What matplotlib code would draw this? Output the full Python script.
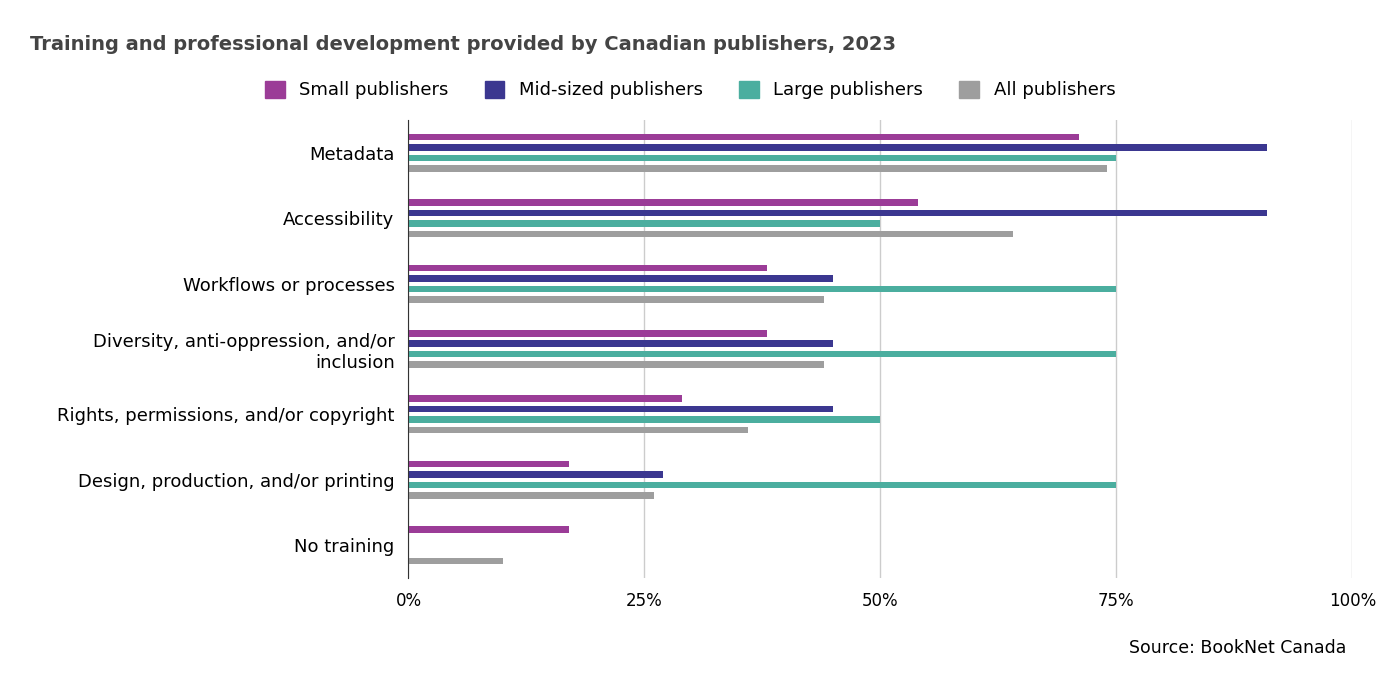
import matplotlib
matplotlib.use("Agg")
import matplotlib.pyplot as plt
import numpy as np
from matplotlib.patches import Patch

categories = ["Metadata", "Accessibility", "Workflows or processes",
              "Diversity, anti-oppression, and/or\ninclusion",
              "Rights, permissions, and/or copyright",
              "Design, production, and/or printing", "No training"]
series_names = ["Small publishers", "Mid-sized publishers", "Large publishers", "All publishers"]
small = [71, 54, 38, 38, 29, 17, 17]
mid = [91, 91, 45, 45, 45, 27, 0]
large = [75, 50, 75, 75, 50, 75, 0]
allp = [74, 64, 44, 44, 36, 26, 10]
colors = ["#9B3C97", "#3B3790", "#4BAE9F", "#9E9E9E"]
xticks = [0, 25, 50, 75, 100]
xticklabels = ["0%", "25%", "50%", "75%", "100%"]

fig = plt.figure(figsize=(13.8, 6.87), dpi=100)
ax = fig.add_axes([0.296, 0.159, 0.684, 0.666])
y = np.arange(len(categories))
offs = [-0.24, -0.08, 0.08, 0.24]
for vals, c, o in zip([small, mid, large, allp], colors, offs):
    ax.barh(y + o, vals, height=0.1, color=c)
ax.set_ylim(len(categories) - 0.5, -0.5)
ax.set_xlim(0, 100)
ax.set_yticks(y)
ax.set_yticklabels(categories, fontsize=13, ha="right")
ax.set_xticks(xticks)
ax.set_xticklabels(xticklabels, fontsize=12)
ax.tick_params(length=0, pad=10)
ax.grid(axis="x", color="#cccccc", lw=1)
ax.set_axisbelow(True)
for s in ["top", "right", "bottom"]:
    ax.spines[s].set_visible(False)
ax.spines["left"].set_color("#333333")
fig.text(30/1380, 1-44/687, "Training and professional development provided by Canadian publishers, 2023",
         fontsize=14, fontweight="bold", color="#444444", va="center")
handles = [Patch(color=c, label=n) for c, n in zip(colors, series_names)]
fig.legend(handles=handles, loc="center", bbox_to_anchor=(0.50, 1-90/687), ncol=4,
           frameon=False, fontsize=13, handlelength=1.1, handleheight=1.1, columnspacing=2)
fig.text(1346/1380, 1-648/687, "Source: BookNet Canada", fontsize=12.5, ha="right", va="center")
fig.savefig("out.png")
